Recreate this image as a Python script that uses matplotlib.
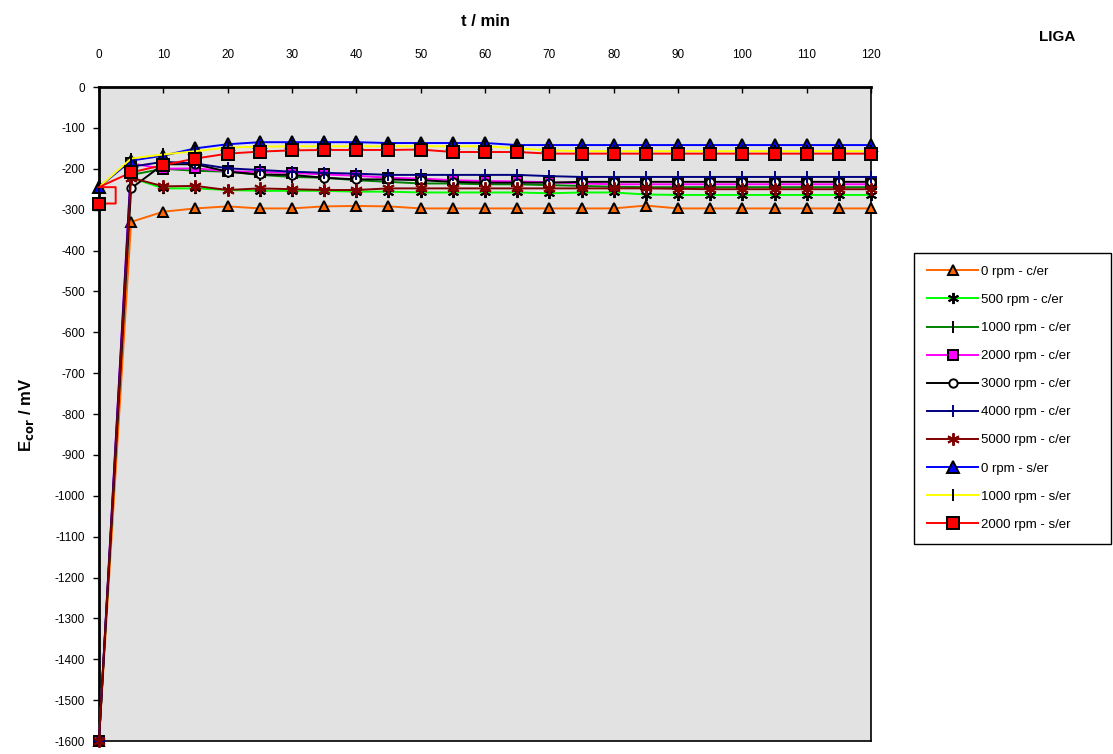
import matplotlib
matplotlib.use('Agg')
import matplotlib.pyplot as plt

plt.rcParams['font.family'] = ['Liberation Sans', 'DejaVu Sans']
plt.rcParams['axes.unicode_minus'] = False

# === Data ===
t = [0, 5, 10, 15, 20, 25, 30, 35, 40, 45, 50, 55, 60,
     65, 70, 75, 80, 85, 90, 95, 100, 105, 110, 115, 120]

e_0_cer = [-1600, -330, -305, -297, -292, -297, -297, -292, -291, -292, -297, -297, -297,
           -297, -297, -297, -297, -290, -297, -297, -297, -297, -297, -297, -297]
e_500_cer = [-1600, -222, -248, -248, -252, -254, -254, -254, -256, -256, -258, -258, -258,
             -258, -260, -258, -258, -263, -264, -264, -264, -264, -264, -264, -264]
e_1000_cer = [-1600, -215, -200, -205, -207, -215, -220, -222, -228, -232, -236, -236, -238,
              -238, -240, -242, -244, -245, -245, -245, -245, -245, -245, -245, -245]
e_2000_cer = [-1600, -187, -200, -199, -206, -208, -210, -214, -217, -222, -224, -228, -230,
              -231, -233, -236, -238, -238, -238, -238, -238, -238, -238, -238, -238]
e_3000_cer = [-1600, -248, -189, -189, -207, -214, -215, -222, -226, -226, -228, -232, -234,
              -234, -234, -232, -232, -232, -232, -232, -232, -232, -232, -232, -232]
e_4000_cer = [-1600, -195, -183, -187, -199, -203, -207, -210, -212, -215, -215, -215, -215,
              -215, -218, -220, -220, -220, -220, -220, -220, -220, -220, -220, -220]
e_5000_cer = [-1600, -222, -243, -242, -252, -248, -250, -252, -252, -248, -248, -248, -248,
              -248, -248, -248, -248, -248, -249, -250, -250, -250, -250, -250, -250]
e_0_ser = [-245, -180, -168, -150, -140, -135, -135, -135, -135, -137, -137, -137, -137,
           -142, -142, -142, -142, -142, -142, -142, -142, -142, -142, -142, -142]
e_1000_ser = [-245, -175, -165, -157, -148, -146, -145, -145, -145, -145, -145, -145, -145,
              -150, -155, -157, -157, -157, -157, -157, -157, -157, -157, -157, -157]
e_2000_ser = [-285, -209, -191, -175, -163, -158, -155, -154, -154, -154, -153, -159, -159,
              -159, -163, -163, -163, -163, -163, -163, -163, -163, -163, -163, -163]

# the red series has a little closed step at t=0 in the original
red_step_t = [0, 2.6, 2.6, 0]
red_step_e = [-285, -285, -245, -245]

# label, values, line color, marker, marker face, marker edge, marker size
series = [
    ('0 rpm - c/er', e_0_cer, '#FF6600', '^', '#FF6600', 'black', 7),
    ('500 rpm - c/er', e_500_cer, '#00FF00', (6, 2, 0), 'black', 'black', 8),
    ('1000 rpm - c/er', e_1000_cer, '#008000', '|', 'black', 'black', 9),
    ('2000 rpm - c/er', e_2000_cer, '#FF00FF', 's', '#FF00FF', 'black', 7),
    ('3000 rpm - c/er', e_3000_cer, 'black', 'o', 'white', 'black', 6),
    ('4000 rpm - c/er', e_4000_cer, '#000080', '+', '#000080', '#000080', 9),
    ('5000 rpm - c/er', e_5000_cer, '#800000', (6, 2, 0), '#800000', '#800000', 9),
    ('0 rpm - s/er', e_0_ser, '#0000FF', '^', '#0000FF', 'black', 8),
    ('1000 rpm - s/er', e_1000_ser, '#FFFF00', '|', 'black', 'black', 9),
]

fig = plt.figure(figsize=(11.13, 7.54), dpi=100)
ax = fig.add_axes([0.0889, 0.0172, 0.6937, 0.8674])
ax.set_facecolor('#e2e2e2')

for label, vals, col, mk, mfc, mec, ms in series:
    ax.plot(t, vals, color=col, lw=1.4, marker=mk, markersize=ms,
            markerfacecolor=mfc, markeredgecolor=mec, markeredgewidth=1.4,
            label=label, clip_on=False, zorder=3)

red_t = red_step_t + t[1:]
red_e = red_step_e + e_2000_ser[1:]
ax.plot(red_t, red_e, color='#FF0000', lw=1.4, marker='s', markersize=9,
        markerfacecolor='#FF0000', markeredgecolor='black', markeredgewidth=1.4,
        markevery=[0] + list(range(4, len(red_t))),
        label='2000 rpm - s/er', clip_on=False, zorder=3)

ax.set_xlim(0, 120)
ax.set_ylim(-1600, 0)
ax.set_xticks(range(0, 121, 10))
ax.set_yticks(range(-1600, 1, 100))
ax.xaxis.tick_top()
ax.tick_params(axis='x', direction='in', length=4, width=1, pad=19, labelsize=8.5)
ax.tick_params(axis='y', direction='out', length=4, width=1, pad=6, labelsize=8.5)
for s in ax.spines.values():
    s.set_linewidth(1.2)
    s.set_color('black')
ax.spines['top'].set_linewidth(2)
ax.spines['left'].set_linewidth(2)

fig.text(0.436, 0.972, 't / min', ha='center', va='center', fontsize=12, fontweight='bold')
fig.text(0.950, 0.951, 'LIGA', ha='center', va='center', fontsize=11, fontweight='bold')
fig.text(0.024, 0.45, r'E$_{\mathbf{cor}}$ / mV', ha='center', va='center', rotation=90,
         fontsize=12, fontweight='bold')

leg = fig.legend(loc='upper left', bbox_to_anchor=(0.821, 0.281, 0.177, 0.384),
                 mode='expand', fontsize=9.5,
                 frameon=True, fancybox=False, edgecolor='black', framealpha=1,
                 handlelength=3.9, handletextpad=0.2, labelspacing=1.2,
                 borderpad=1.0, borderaxespad=0)
leg.get_frame().set_linewidth(1)

fig.savefig('out.png', dpi=100)
